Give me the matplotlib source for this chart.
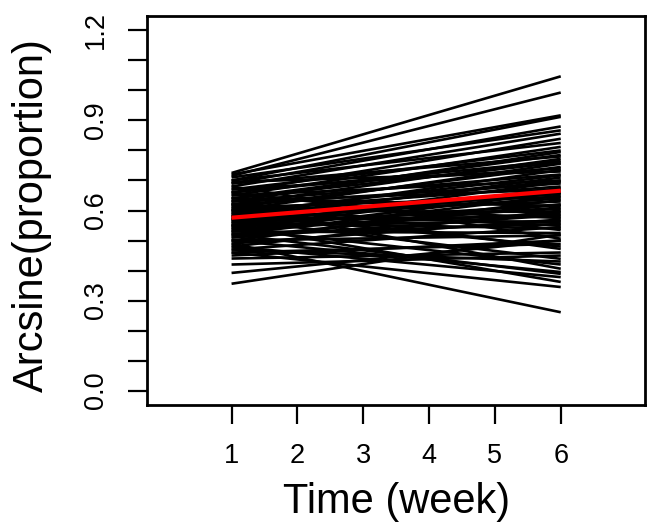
import matplotlib
matplotlib.use("Agg")
import matplotlib.pyplot as plt
import numpy as np

plt.rcParams['font.family'] = ['Liberation Sans', 'DejaVu Sans']

weeks = [1, 2, 3, 4, 5, 6]

# per-subject fitted values at week 1 and week 6 (straight lines)
start_vals = [0.725, 0.715, 0.72, 0.70, 0.69, 0.71, 0.68, 0.66, 0.70, 0.65,
              0.67, 0.63, 0.64, 0.62, 0.66, 0.60, 0.61, 0.58, 0.695, 0.59,
              0.57, 0.65, 0.55, 0.62, 0.60, 0.54, 0.63, 0.56, 0.58, 0.52,
              0.61, 0.57, 0.50, 0.59, 0.55, 0.64, 0.53, 0.56, 0.48, 0.60,
              0.54, 0.51, 0.57, 0.62, 0.49, 0.55, 0.58, 0.52, 0.60, 0.47,
              0.56, 0.66, 0.53, 0.50, 0.68, 0.45, 0.46, 0.59, 0.62, 0.356,
              0.392, 0.44, 0.57, 0.54, 0.61, 0.50, 0.52, 0.48, 0.55, 0.46,
              0.49, 0.42, 0.47, 0.58, 0.63, 0.67, 0.51, 0.53, 0.64, 0.69]
end_vals = [1.047, 0.993, 0.917, 0.912, 0.88, 0.867, 0.856, 0.839, 0.825, 0.812,
            0.80, 0.795, 0.785, 0.772, 0.765, 0.756, 0.745, 0.735, 0.73, 0.717,
            0.71, 0.70, 0.695, 0.69, 0.68, 0.675, 0.67, 0.66, 0.655, 0.65,
            0.645, 0.64, 0.635, 0.63, 0.62, 0.615, 0.61, 0.605, 0.60, 0.595,
            0.59, 0.585, 0.58, 0.575, 0.57, 0.565, 0.56, 0.555, 0.55, 0.545,
            0.54, 0.535, 0.525, 0.517, 0.506, 0.50, 0.489, 0.48, 0.472, 0.52,
            0.50, 0.46, 0.439, 0.42, 0.406, 0.395, 0.389, 0.378, 0.362, 0.345,
            0.261, 0.45, 0.43, 0.70, 0.72, 0.74, 0.62, 0.66, 0.76, 0.78]

mean_start = 0.576
mean_end = 0.666

x_ticks = [1, 2, 3, 4, 5, 6]
y_ticks = [0.0, 0.1, 0.2, 0.3, 0.4, 0.5, 0.6, 0.7, 0.8, 0.9, 1.0, 1.1, 1.2]
y_labels = ["0.0", "", "", "0.3", "", "", "0.6", "", "", "0.9", "", "", "1.2"]

W, H = 648, 529
fig = plt.figure(figsize=(W / 100, H / 100), dpi=100)
ax = fig.add_axes([147.3 / W, 1 - 405 / H, (645 - 147.3) / W, (405 - 16) / H])

x0, x1 = weeks[0], weeks[-1]
for s, e in zip(start_vals, end_vals):
    ax.plot([x0, x1], [s, e], color='black', lw=1.9, solid_capstyle='butt')
ax.plot([x0, x1], [mean_start, mean_end], color='#ff0000', lw=3.0,
        solid_capstyle='butt', zorder=5)

ax.set_xlim(-0.28, 7.28)
ax.set_ylim(-0.048, 1.248)
ax.set_xticks(x_ticks)
ax.set_xticklabels([str(t) for t in x_ticks])
ax.set_yticks(y_ticks)
ax.set_yticklabels(y_labels, rotation=90, va='center')

for sp in ax.spines.values():
    sp.set_linewidth(2.0)
ax.tick_params(axis='both', direction='out', length=13.5, width=1.6,
               labelsize=19.5, pad=14.0, colors='black')

fig.text(396.5 / W, 1 - 513 / H, "Time (week)", ha='center', va='baseline', fontsize=30)
fig.text(43 / W, 1 - 215 / H, "Arcsine(proportion)", ha='center', va='baseline',
         rotation=90, rotation_mode='anchor', fontsize=30)

fig.savefig("out.png", dpi=100)
